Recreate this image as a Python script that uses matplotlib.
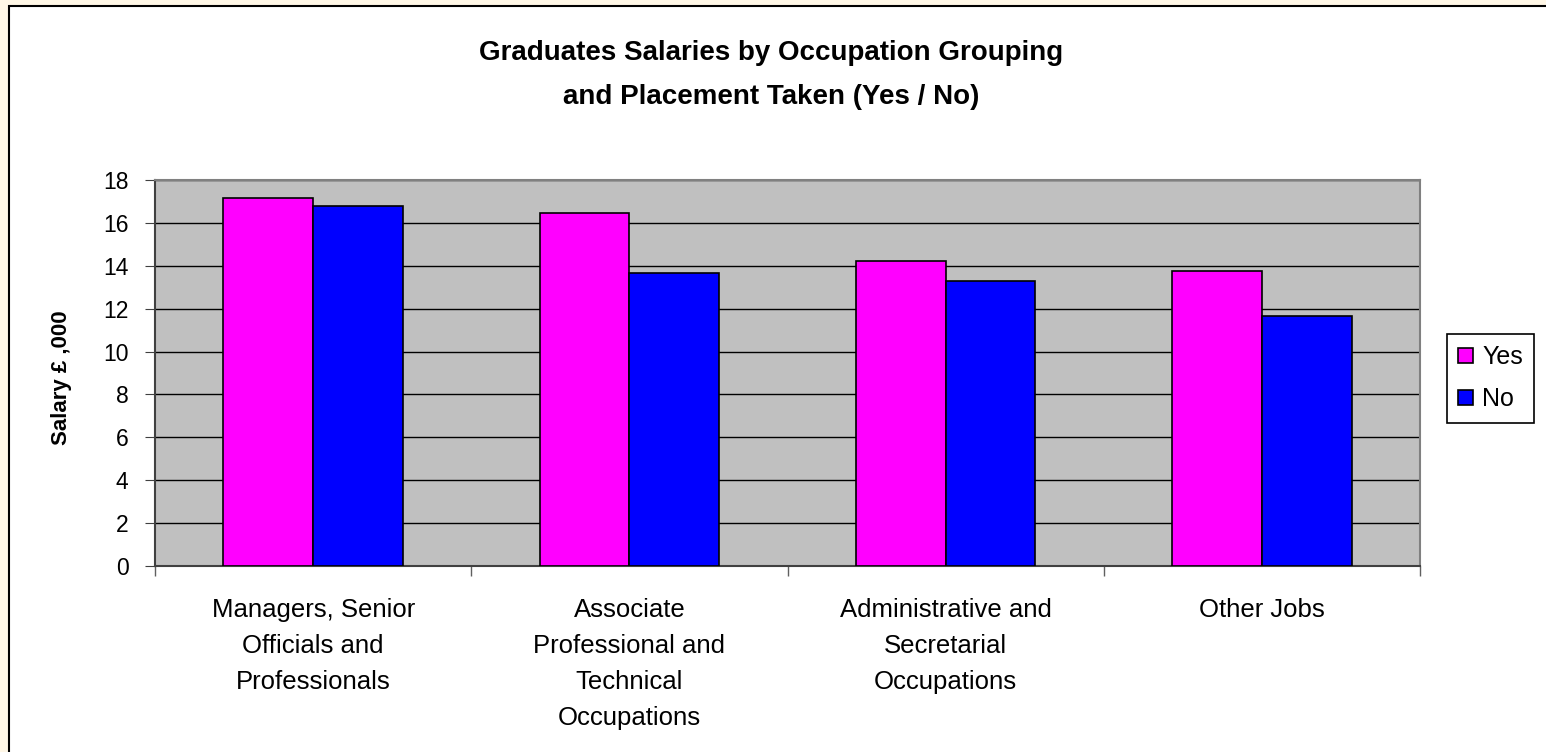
import matplotlib
matplotlib.use("Agg")
import matplotlib.pyplot as plt
import numpy as np
from matplotlib.patches import Rectangle

categories = ["Managers, Senior\nOfficials and\nProfessionals",
              "Associate\nProfessional and\nTechnical\nOccupations",
              "Administrative and\nSecretarial\nOccupations",
              "Other Jobs"]
yes_vals = [17.15, 16.46, 14.24, 13.76]
no_vals = [16.78, 13.67, 13.29, 11.65]
series_names = ["Yes", "No"]
yticks = list(range(0, 19, 2))

plt.rcParams['font.family'] = ['Liberation Sans', 'DejaVu Sans']

W, H = 1546, 752
fig = plt.figure(figsize=(W / 100, H / 100), dpi=100)
fig.patch.set_facecolor('#FFF7E6')

# chart area (white with black border, extends past right/bottom)
bg = Rectangle((9 / W, -0.05), 1.2, 1 - 6 / H + 0.05, transform=fig.transFigure,
               facecolor='white', edgecolor='black', linewidth=1.5, zorder=-10)
fig.add_artist(bg)

ax = fig.add_axes([155 / W, 1 - 566 / H, (1420 - 155) / W, (566 - 180) / H])
ax.set_zorder(1)
ax.set_facecolor('#C0C0C0')

x = np.arange(len(categories))
bw = 0.284
ax.bar(x - bw / 2, yes_vals, bw, color='#FF00FF', edgecolor='black', linewidth=1.2, label=series_names[0], zorder=3)
ax.bar(x + bw / 2, no_vals, bw, color='#0000FF', edgecolor='black', linewidth=1.2, label=series_names[1], zorder=3)

ax.set_xlim(-0.5, len(categories) - 0.5)
ax.set_ylim(0, 18)
ax.set_yticks(yticks)
ax.yaxis.grid(True, color='black', linewidth=1.0, zorder=1)
ax.set_axisbelow(True)

ax.set_xticks(x)
ax.set_xticklabels(categories, fontsize=18.5, linespacing=1.63, va='top')
ax.tick_params(axis='x', which='major', length=0, pad=23)
ax.set_xticks(np.arange(-0.5, len(categories), 1.0), minor=True)
ax.tick_params(axis='x', which='minor', length=7, color='#606060', width=1)
ax.tick_params(axis='y', labelsize=16.5, length=7, color='#404040', pad=12)

for s in ['top', 'right']:
    ax.spines[s].set_color('#808080')
    ax.spines[s].set_linewidth(1.5)
ax.spines['left'].set_color('#404040')
ax.spines['bottom'].set_color('#404040')
ax.spines['left'].set_linewidth(1.5)
ax.spines['bottom'].set_linewidth(1.5)

fig.text(62 / W, 1 - 378 / H, "Salary £ ,000", rotation=90, ha='center', va='center',
         fontsize=16, fontweight='bold')

fig.text(771 / W, 1 - 75 / H, "Graduates Salaries by Occupation Grouping\nand Placement Taken (Yes / No)",
         ha='center', va='center', fontsize=20, fontweight='bold', linespacing=1.9)

leg = fig.legend(loc='upper left', bbox_to_anchor=(1447 / W, 1 - 334 / H), fontsize=18,
                 frameon=True, fancybox=False, edgecolor='black', framealpha=1,
                 handlelength=0.6, handleheight=0.6, handletextpad=0.35, borderpad=0.45,
                 labelspacing=0.72, borderaxespad=0)
leg.get_frame().set_linewidth(1.2)

fig.savefig("out.png", dpi=100, facecolor=fig.get_facecolor())
